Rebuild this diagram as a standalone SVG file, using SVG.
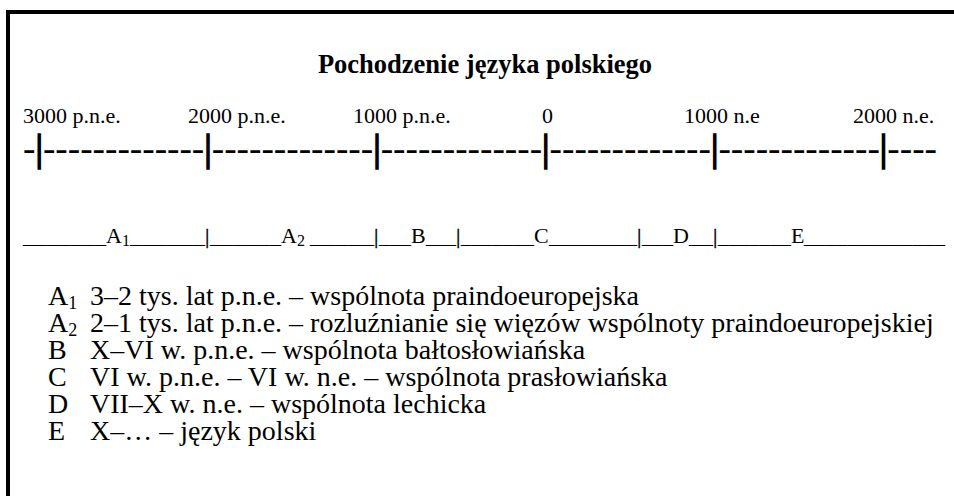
<svg xmlns="http://www.w3.org/2000/svg" width="954" height="496" viewBox="0 0 954 496">
<style>
text{font-family:"Liberation Serif","Times New Roman",serif;fill:#000}
.title{font-size:26.5px;font-weight:bold}
.ax{font-size:22px}
.line{font-size:37px}
.bar{stroke:#000;stroke-width:1.6}
.thin{stroke:#000;stroke-width:0.4}
.row{font-size:22px}
.leg{font-size:28px}
.sub{font-size:18px}
.subr{font-size:16px}
</style>
<rect x="0" y="0" width="954" height="496" fill="#fff"/>
<path d="M8,496 V12 H954" fill="none" stroke="#000" stroke-width="4"/>
<g id="title"><text class="title" x="485" y="73" text-anchor="middle">Pochodzenie języka polskiego</text></g>
<g id="axis-labels">
<text class="ax" x="23" y="123">3000 p.n.e.</text>
<text class="ax" x="188" y="123">2000 p.n.e.</text>
<text class="ax" x="353" y="123">1000 p.n.e.</text>
<text class="ax" x="542" y="123">0</text>
<text class="ax" x="684" y="123">1000 n.e</text>
<text class="ax" x="853" y="123">2000 n.e.</text>
</g>
<g id="axis">
<text class="line" x="23" y="161" textLength="914" lengthAdjust="spacingAndGlyphs">-<tspan class="bar">|</tspan>-------------<tspan class="bar">|</tspan>-------------<tspan class="bar">|</tspan>-------------<tspan class="bar">|</tspan>-------------<tspan class="bar">|</tspan>-------------<tspan class="bar">|</tspan>----</text>
</g>
<g id="periods">
<text class="row" y="243"><tspan x="23" textLength="83" lengthAdjust="spacingAndGlyphs">_______</tspan><tspan x="106">A</tspan><tspan class="subr" dy="3">1</tspan><tspan x="130" dy="-3" textLength="75" lengthAdjust="spacingAndGlyphs">______</tspan><tspan x="205" class="thin">|</tspan><tspan x="210" textLength="71" lengthAdjust="spacingAndGlyphs">______</tspan><tspan x="281">A</tspan><tspan class="subr" dy="3">2</tspan><tspan x="310" dy="-3" textLength="64" lengthAdjust="spacingAndGlyphs">_____</tspan><tspan x="374" class="thin">|</tspan><tspan x="379" textLength="32" lengthAdjust="spacingAndGlyphs">___</tspan><tspan x="411">B</tspan><tspan x="426" textLength="30" lengthAdjust="spacingAndGlyphs">___</tspan><tspan x="456" class="thin">|</tspan><tspan x="461" textLength="73" lengthAdjust="spacingAndGlyphs">_______</tspan><tspan x="534">C</tspan><tspan x="549" textLength="88" lengthAdjust="spacingAndGlyphs">________</tspan><tspan x="637" class="thin">|</tspan><tspan x="642" textLength="31" lengthAdjust="spacingAndGlyphs">___</tspan><tspan x="673">D</tspan><tspan x="689" textLength="24" lengthAdjust="spacingAndGlyphs">__</tspan><tspan x="713" class="thin">|</tspan><tspan x="718" textLength="73" lengthAdjust="spacingAndGlyphs">_______</tspan><tspan x="791">E</tspan><tspan x="804" textLength="141" lengthAdjust="spacingAndGlyphs">_____________</tspan></text>
</g>
<g id="legend">
<text class="leg" x="48" y="305">A<tspan class="sub" dy="4">1</tspan></text>
<text class="leg" x="90" y="305">3–2 tys. lat p.n.e. – wspólnota praindoeuropejska</text>
<text class="leg" x="48" y="332">A<tspan class="sub" dy="4">2</tspan></text>
<text class="leg" x="90" y="332">2–1 tys. lat p.n.e. – rozluźnianie się więzów wspólnoty praindoeuropejskiej</text>
<text class="leg" x="48" y="359">B</text>
<text class="leg" x="90" y="359">X–VI w. p.n.e. – wspólnota bałtosłowiańska</text>
<text class="leg" x="48" y="386">C</text>
<text class="leg" x="90" y="386">VI w. p.n.e. – VI w. n.e. – wspólnota prasłowiańska</text>
<text class="leg" x="48" y="413">D</text>
<text class="leg" x="90" y="413">VII–X w. n.e. – wspólnota lechicka</text>
<text class="leg" x="48" y="440">E</text>
<text class="leg" x="90" y="440">X–… – język polski</text>
</g>
</svg>
